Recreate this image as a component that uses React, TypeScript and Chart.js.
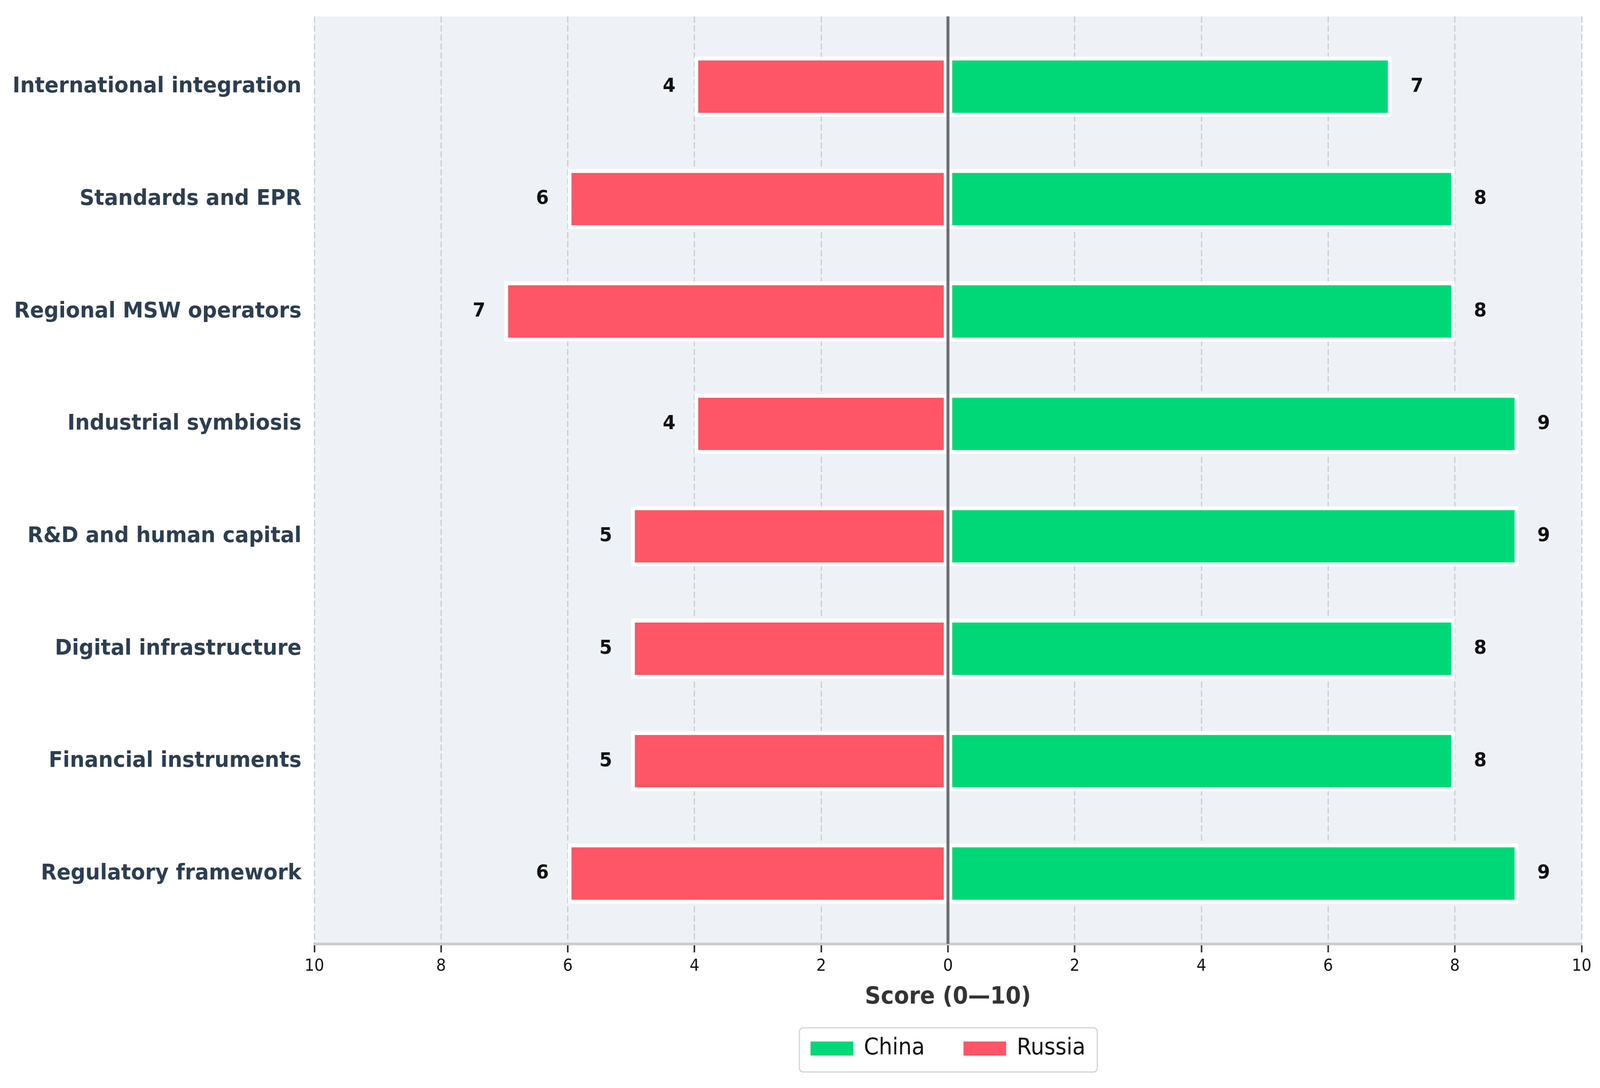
import React, { useEffect, useRef } from 'react';
import { Chart, registerables } from 'chart.js';

Chart.register(...registerables);

// ---- data ----
const categories = [
  'International integration',
  'Standards and EPR',
  'Regional MSW operators',
  'Industrial symbiosis',
  'R&D and human capital',
  'Digital infrastructure',
  'Financial instruments',
  'Regulatory framework',
];
const chinaScores = [7, 8, 8, 9, 9, 8, 8, 9];
const russiaScores = [4, 6, 7, 4, 5, 5, 5, 6];
const xTickValues = [-10, -8, -6, -4, -2, 0, 2, 4, 6, 8, 10];
const seriesNames = ['China', 'Russia'];
const axisTitle = 'Score (0\u201410)';

const W = 4347;
const H = 2784;
const FONT = '"DejaVu Sans", sans-serif';
const CHINA_COLOR = '#00d877';
const RUSSIA_COLOR = '#fe5567';
const LABEL_OFFSET = 0.3;

const backgroundPlugin = {
  id: 'plotBackground',
  beforeDraw(chart: any) {
    const { ctx, chartArea: a } = chart;
    ctx.save();
    ctx.fillStyle = '#eef2f7';
    ctx.fillRect(a.left, a.top, a.right - a.left, a.bottom - a.top);
    const hb = chart.legend && chart.legend.legendHitBoxes;
    if (hb && hb.length) {
      const first = hb[0];
      const last = hb[hb.length - 1];
      const mid = first.top + first.height / 2;
      const l = first.left - 30;
      const r = last.left + last.width + 32;
      const t = mid - 53;
      const b = mid + 60;
      ctx.beginPath();
      if (ctx.roundRect) ctx.roundRect(l, t, r - l, b - t, 10);
      else ctx.rect(l, t, r - l, b - t);
      ctx.fillStyle = '#ffffff';
      ctx.fill();
      ctx.lineWidth = 3;
      ctx.strokeStyle = '#d2d2d2';
      ctx.stroke();
    }
    ctx.restore();
  },
};

const overlayPlugin = {
  id: 'overlay',
  afterDatasetsDraw(chart: any) {
    const { ctx, chartArea: a } = chart;
    const xs = chart.scales.x;
    const ys = chart.scales.y;
    ctx.save();
    // zero reference line
    const x0 = xs.getPixelForValue(0);
    ctx.strokeStyle = '#6b6d70';
    ctx.lineWidth = 8;
    ctx.beginPath();
    ctx.moveTo(x0, a.top);
    ctx.lineTo(x0, a.bottom);
    ctx.stroke();
    // value labels
    ctx.font = 'bold 50px ' + FONT;
    ctx.fillStyle = '#111111';
    ctx.textBaseline = 'middle';
    categories.forEach((_, i) => {
      const y = ys.getPixelForValue(i);
      ctx.textAlign = 'left';
      ctx.fillText(String(chinaScores[i]), xs.getPixelForValue(chinaScores[i] + LABEL_OFFSET), y);
      ctx.textAlign = 'right';
      ctx.fillText(String(russiaScores[i]), xs.getPixelForValue(-(russiaScores[i] + LABEL_OFFSET)), y);
    });
    ctx.restore();
  },
};

export default function App() {
  const ref = useRef<HTMLCanvasElement | null>(null);

  useEffect(() => {
    if (!ref.current) return;
    const chinaData = chinaScores.map((v, i) => ({ x: v, y: i }));
    const russiaData = russiaScores.map((v, i) => ({ x: -v, y: i }));
    const barCommon = {
      borderColor: '#ffffff',
      borderWidth: 10,
      borderSkipped: false,
      inflateAmount: 0,
      barPercentage: 0.535,
      categoryPercentage: 1,
    };
    const chart = new Chart(ref.current, {
      type: 'bar',
      data: {
        datasets: [
          { label: seriesNames[0], data: chinaData, backgroundColor: CHINA_COLOR, ...barCommon } as any,
          { label: seriesNames[1], data: russiaData, backgroundColor: RUSSIA_COLOR, ...barCommon } as any,
        ],
      },
      options: {
        indexAxis: 'y',
        responsive: false,
        animation: false,
        devicePixelRatio: 1,
        layout: { padding: { left: 0, right: 50, top: 42, bottom: 62 } },
        scales: {
          x: {
            type: 'linear',
            min: -10,
            max: 10,
            stacked: true,
            offset: false,
            afterBuildTicks: (s: any) => {
              s.ticks = xTickValues.map((v) => ({ value: v }));
            },
            ticks: {
              callback: (v: any) => String(Math.abs(Number(v))),
              font: { family: FONT, size: 42 },
              color: '#111111',
              padding: 11,
              autoSkip: false,
              maxRotation: 0,
            },
            grid: {
              color: (c: any) => (c.tick && c.tick.value === 0 ? 'rgba(0,0,0,0)' : '#c6cbd2'),
              lineWidth: 3,
              offset: false,
              drawTicks: true,
              tickLength: 22,
              tickColor: '#222222',
              tickWidth: 4,
            },
            border: { display: true, color: '#cccccc', width: 7, dash: [16, 7] },
            title: {
              display: true,
              text: axisTitle,
              font: { family: FONT, size: 60, weight: 'bold' },
              color: '#333333',
              padding: { top: 0, bottom: -39 },
            },
            afterFit: (s: any) => {
              s.height = 134;
            },
          } as any,
          y: {
            type: 'linear',
            min: -0.625,
            max: 7.625,
            reverse: true,
            stacked: true,
            offset: false,
            afterBuildTicks: (s: any) => {
              s.ticks = categories.map((_, i) => ({ value: i }));
            },
            ticks: {
              callback: (v: any) => categories[Number(v)] ?? '',
              font: { family: FONT, size: 56, weight: 'bold' },
              color: '#2c3e50',
              padding: 35,
              autoSkip: false,
            },
            grid: { display: false, offset: false, drawTicks: false, tickLength: 0 },
            border: { display: false },
            afterFit: (s: any) => {
              s.width = 854;
              s.paddingTop = 0;
              s.paddingBottom = 0;
            },
          } as any,
        },
        plugins: {
          legend: {
            position: 'bottom',
            fullSize: false,
            labels: {
              font: { family: FONT, size: 58 },
              color: '#111111',
              boxWidth: 116,
              boxHeight: 36,
              padding: 105,
              generateLabels: (c: any) =>
                (Chart.defaults.plugins.legend.labels.generateLabels as any)(c).map((it: any) => ({
                  ...it,
                  lineWidth: 0,
                  strokeStyle: 'rgba(0,0,0,0)',
                })),
            },
          },
          tooltip: { enabled: false },
        },
      } as any,
      plugins: [backgroundPlugin, overlayPlugin],
    });
    return () => chart.destroy();
  }, []);

  return (
    <div style={{ position: 'absolute', left: 0, top: 0, width: '100vw', height: '100vh', background: '#ffffff', overflow: 'hidden' }}>
      <canvas ref={ref} width={W} height={H} style={{ width: '100%', height: '100%', display: 'block' }} />
    </div>
  );
}
